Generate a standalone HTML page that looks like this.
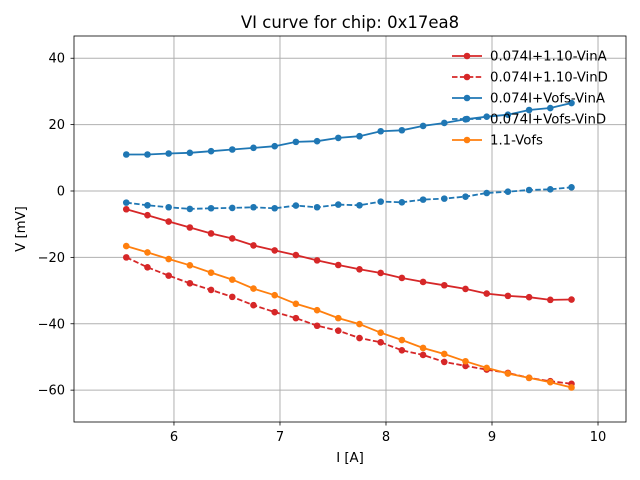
<!DOCTYPE html>
<html><head><meta charset="utf-8"><style>body{margin:0;background:#fff}svg{display:block;font-family:"DejaVu Sans","Liberation Sans",sans-serif}</style></head>
<body>
<svg id="chart" width="640" height="480"></svg>
<script>
const currents=[5.55,5.75,5.95,6.15,6.35,6.55,6.75,6.95,7.15,7.35,7.55,7.75,7.95,8.15,8.35,8.55,8.75,8.95,9.15,9.35,9.55,9.75];
const redVinA=[-5.5,-7.3,-9.2,-11,-12.8,-14.3,-16.4,-17.9,-19.3,-20.9,-22.3,-23.6,-24.7,-26.2,-27.4,-28.4,-29.5,-30.9,-31.6,-32,-32.8,-32.7];
const redVinD=[-20,-23,-25.5,-27.8,-29.8,-31.9,-34.4,-36.5,-38.3,-40.6,-42.1,-44.3,-45.6,-48,-49.4,-51.5,-52.7,-53.8,-54.8,-56.3,-57.3,-58.1];
const blueVinA=[11,11,11.3,11.5,12,12.5,13,13.5,14.8,15,16,16.5,18,18.3,19.6,20.5,21.6,22.4,23,24.4,25,26.5];
const blueVinD=[-3.5,-4.3,-4.9,-5.4,-5.2,-5.1,-4.9,-5.2,-4.4,-4.9,-4.1,-4.3,-3.2,-3.4,-2.6,-2.3,-1.7,-0.6,-0.2,0.3,0.5,1.1];
const orangeVofs=[-16.6,-18.5,-20.5,-22.4,-24.6,-26.7,-29.4,-31.4,-34,-35.9,-38.3,-40.1,-42.7,-44.9,-47.3,-49.1,-51.3,-53.3,-55,-56.3,-57.6,-59.2];
const xTicks=[6,7,8,9,10];
const yTicks=[-60,-40,-20,0,20,40];
const seriesNames=["0.074I+1.10-VinA","0.074I+1.10-VinD","0.074I+Vofs-VinA","0.074I+Vofs-VinD","1.1-Vofs"];

const L=74,R=626,T=36,B=422;
const xMin=5.057,xMax=10.264,yMin=-69.6,yMax=46.7;
const sx=v=>L+(v-xMin)/(xMax-xMin)*(R-L);
const sy=v=>B-(v-yMin)/(yMax-yMin)*(B-T);
const svg=document.getElementById('chart');
const NS='http://www.w3.org/2000/svg';
function mk(tag,attrs,parent){const e=document.createElementNS(NS,tag);for(const k in attrs)e.setAttribute(k,attrs[k]);(parent||svg).appendChild(e);return e;}

const grid=mk('g',{});


xTicks.forEach(t=>{
  const l=mk('line',{x1:sx(t),x2:sx(t),y1:T,y2:B,stroke:'#b0b0b0','stroke-width':1},grid);
  
  
  mk('line',{x1:sx(t),x2:sx(t),y1:B,y2:B+3.5,stroke:'#000','stroke-width':0.8});
  const tx=mk('text',{x:sx(t),y:B+19,'text-anchor':'middle','font-size':13,fill:'#000'});
  tx.textContent=t;
  
  
});
yTicks.forEach(t=>{
  const l=mk('line',{x1:L,x2:R,y1:sy(t),y2:sy(t),stroke:'#b0b0b0','stroke-width':1},grid);
  
  
  mk('line',{x1:L-3.5,x2:L,y1:sy(t),y2:sy(t),stroke:'#000','stroke-width':0.8});
  const tx=mk('text',{x:L-9,y:sy(t)+4.5,'text-anchor':'end','font-size':13,fill:'#000'});
  tx.textContent=(t<0?'\u2212'+(-t):t);
  
  
});

const series=[
  {vals:redVinA,color:'#d62728',dash:null,name:'series-vina-110'},
  {vals:redVinD,color:'#d62728',dash:'5.5,2.4',name:'series-vind-110'},
  {vals:blueVinA,color:'#1f77b4',dash:null,name:'series-vina-vofs'},
  {vals:blueVinD,color:'#1f77b4',dash:'5.5,2.4',name:'series-vind-vofs'},
  {vals:orangeVofs,color:'#ff7f0e',dash:null,name:'series-vofs'}
];
series.forEach(s=>{
  const g=mk('g',{});
  
  
  const d=s.vals.map((v,i)=>(i?'L':'M')+sx(currents[i]).toFixed(1)+','+sy(v).toFixed(1)).join(' ');
  const p=mk('path',{d:d,fill:'none',stroke:s.color,'stroke-width':1.8},g);
  if(s.dash)p.setAttribute('stroke-dasharray',s.dash);
  
  
  s.vals.forEach((v,i)=>{
    const c=mk('circle',{cx:sx(currents[i]),cy:sy(v),r:3.3,fill:s.color},g);
    
    
  });
});

const frame=mk('rect',{x:L,y:T,width:R-L,height:B-T,fill:'none',stroke:'#000','stroke-width':0.8});



const leg=mk('g',{});


series.forEach((s,i)=>{
  const y=56+i*21;
  const e=mk('g',{},leg);
  
  
  const l=mk('line',{x1:452,x2:482,y1:y,y2:y,stroke:s.color,'stroke-width':1.8},e);
  if(s.dash)l.setAttribute('stroke-dasharray',s.dash);
  mk('circle',{cx:467,cy:y,r:3.3,fill:s.color},e);
  const t=mk('text',{x:490,y:y+4.5,'font-size':13.3,fill:'#000'},e);
  t.textContent=seriesNames[i];
});

const title=mk('text',{x:(L+R)/2,y:28,'text-anchor':'middle','font-size':16.5,fill:'#000'});
title.textContent='VI curve for chip: 0x17ea8';


const xl=mk('text',{x:(L+R)/2,y:462,'text-anchor':'middle','font-size':13.3,fill:'#000'});
xl.textContent='I [A]';


const yl=mk('text',{x:0,y:0,'text-anchor':'middle','font-size':13.3,fill:'#000',transform:'translate(25,'+((T+B)/2)+') rotate(-90)'});
yl.textContent='V [mV]';


</script>
</body></html>
